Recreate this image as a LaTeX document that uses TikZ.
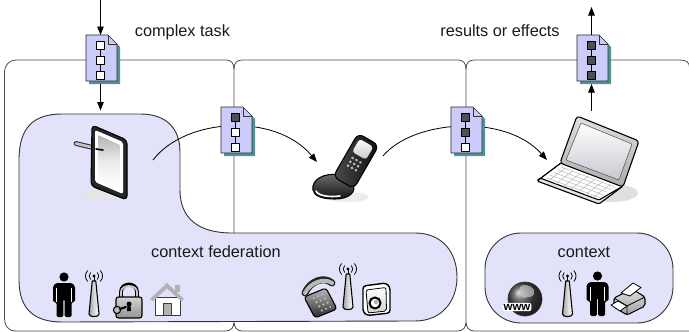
\documentclass[tikz,border=0pt]{standalone}
\usepackage{fontspec}
\setmainfont{Liberation Sans}
\usetikzlibrary{arrows.meta}
\definecolor{zonefill}{RGB}{226,226,250}
\definecolor{docfill}{RGB}{204,204,250}
\definecolor{docshade}{RGB}{78,148,150}
\definecolor{stepdark}{RGB}{80,80,80}

% task document: name, centre, fills of its three steps
\newcommand\taskdoc[5]{%
  \node[docnode] (#1) at #2 {};
  \begin{scope}[shift={(#1.north west)}]
    \fill[docshade] (3,3) -- (25,3) -- (34,12) -- (34,49) -- (3,49) -- cycle;
    \draw[draw=black!85, line width=0.7pt, fill=docfill] (0,0) -- (22,0) -- (31,9) -- (31,46) -- (0,46) -- cycle;
    \draw[black!80, line width=0.5pt] (22,0) -- (22,9) -- (31,9);
    \draw[black, line width=0.7pt] (14.5,10) -- (14.5,40);
    \draw[black, line width=0.7pt, fill=#3] (10.5,6) rectangle (18.5,14);
    \draw[black, line width=0.7pt, fill=#4] (10.5,21) rectangle (18.5,29);
    \draw[black, line width=0.7pt, fill=#5] (10.5,36) rectangle (18.5,44);
  \end{scope}}

% standing person, given its top centre
\newcommand\personicon[1]{%
  \begin{scope}[shift={#1}]
    \fill (0,5) circle (4.6);
    \fill[rounded corners=1.5pt] (-11,30) -- (-11,14) -- (-8,11) -- (8,11) -- (11,14) -- (11,30)
      -- (7.5,30) -- (7.5,45) -- (0.7,45) -- (0.7,27) -- (-0.7,27) -- (-0.7,45) -- (-7.5,45) -- (-7.5,30) -- cycle;
    \draw[white, line width=0.7pt] (-7.3,16) -- (-7.3,30) (7.3,16) -- (7.3,30);
  \end{scope}}

% radio mast, given its top centre
\newcommand\masticon[1]{%
  \begin{scope}[shift={#1}]
    \draw[line width=0.8pt] (-3.3,2.5) .. controls (-5.3,4.5) and (-5.3,7.5) .. (-3.3,9.5)
      (3.3,2.5) .. controls (5.3,4.5) and (5.3,7.5) .. (3.3,9.5)
      (-6.3,0.5) .. controls (-9.3,4) and (-9.3,8) .. (-6.3,11.5)
      (6.3,0.5) .. controls (9.3,4) and (9.3,8) .. (6.3,11.5);
    \fill (0,6) circle (1.7);
    \draw[line width=1pt] (0,6) -- (0,12);
    \draw[line width=1.1pt, left color=gray!75, right color=white, middle color=gray!30]
      (-1.8,11) -- (1.8,11) -- (5,44) .. controls (5,47.5) and (-5,47.5) .. (-5,44) -- cycle;
  \end{scope}}

\begin{document}
\begin{tikzpicture}[x=1pt,y=-1pt, line join=round,
  panelline/.style={draw=black!70, line width=0.8pt},
  fedzone/.style={draw=black!80, line width=0.9pt, fill=zonefill},
  flow/.style={draw=black, line width=0.8pt, -{Triangle[length=8.5pt,width=6.5pt]}},
  lbl/.style={font=\fontsize{16.3}{19}\selectfont, inner sep=0pt, anchor=base, text=black!90},
  docnode/.style={minimum width=31pt, minimum height=46pt, inner sep=0pt, outer sep=0pt},
  iconline/.style={draw=black, line width=1.1pt},
]
\useasboundingbox (0,0) rectangle (689,332);

% ---- the three braces enclosing the devices ----
\draw[panelline] (4.5,317) -- (4.5,73) .. controls (4.5,65) and (9,60) .. (17,60) -- (226,60)
  .. controls (231,60) and (234,63) .. (234,69);
\draw[panelline] (242,60) .. controls (237,60) and (234,63) .. (234,69) -- (234,322);
\draw[panelline] (242,60) -- (458,60) .. controls (463,60) and (466,63) .. (466,69);
\draw[panelline] (474,60) .. controls (469,60) and (466,63) .. (466,69) -- (466,322);
\draw[panelline] (474,60) -- (680,60) .. controls (686,60) and (689.6,62) .. (689.6,68) -- (689.6,332);
\draw[panelline] (4.5,317) .. controls (4.5,326) and (8,331) .. (16,331) -- (226,331)
  .. controls (231,331) and (234,327) .. (234,322) .. controls (234,327) and (237,331) .. (242,331)
  -- (458,331) .. controls (463,331) and (466,327) .. (466,322) .. controls (466,327) and (469,331) .. (474,331)
  -- (690,331);

% ---- context zones ----
\draw[fedzone] (19,160) .. controls (19,128) and (33,114) .. (62,114) -- (140,114)
  .. controls (166,114) and (180,128) .. (180,152) -- (180,190)
  .. controls (180,218) and (198,233) .. (232,233) -- (415,233)
  .. controls (442,233) and (457,252) .. (457,277)
  .. controls (457,302) and (441,321) .. (415,321) -- (62,322)
  .. controls (33,322) and (19,308) .. (19,280) -- cycle;
\draw[fedzone, rounded corners=36pt] (485,233) rectangle (673,323);

\node[lbl] (fedlabel) at (216,257.5) {context federation};
\node[lbl] (ctxlabel) at (584,257) {context};
\node[lbl] (tasklabel) at (182.5,36.5) {complex task};
\node[lbl] (reslabel) at (500,36.5) {results or effects};

% ---- tablet with stylus ----
\node[inner sep=0pt, minimum width=36pt, minimum height=75pt] (tablet) at (109,162) {};
\draw[line width=4.8pt, black!80, line cap=round] (76,143.5) -- (103,150);
\draw[line width=2.6pt, gray!45, line cap=round] (76,143.5) -- (103,150);
\fill[gray!20] (100,195) ellipse (18 and 5);
\draw[iconline, fill=black!85, rounded corners=4pt] (92,125) -- (127,140) -- (127,200) -- (91,186) -- cycle;
\fill[white, rounded corners=2pt] (95,130) -- (123,142) -- (123,194) -- (95,182) -- cycle;
\shade[top color=gray!60, bottom color=white, middle color=gray!15, rounded corners=1pt]
  (98,135) -- (120,145) -- (120,188) -- (98,179) -- cycle;
\draw[line width=1.6pt, line cap=round] (103,150) -- (96,149);

% ---- flip phone ----
\node[inner sep=0pt, minimum width=62pt, minimum height=62pt] (phone) at (342,169) {};
\fill[gray!15] (347,197) ellipse (22 and 5);
\draw[iconline, top color=black!55, bottom color=black!92]
  (313,190) .. controls (311,180) and (324,172) .. (340,175) -- (353,183)
  .. controls (357,192) and (349,199) .. (335,199) .. controls (322,199) and (314,196) .. (313,190) -- cycle;
\draw[white, line width=1.6pt, line cap=round] (316,191) .. controls (318,195.5) and (328,197.5) .. (340,196);
\begin{scope}[shift={(356,161)}, rotate=-30]
  \draw[iconline, left color=black!70, right color=black!95, rounded corners=6pt] (-12,-25) rectangle (12,25);
  \shade[top color=white, bottom color=gray!45, rounded corners=3pt] (-8,-21) rectangle (8,-6);
  \foreach \r in {0,1,2} \foreach \c in {-1,0,1}
    \fill[gray!55] (4.5*\c,-1+4.5*\r) circle (1.5);
\end{scope}

% ---- laptop ----
\node[inner sep=0pt, minimum width=104pt, minimum height=86pt] (laptop) at (588,158) {};
\fill[gray!25] (612,193) ellipse (26 and 9);
\draw[iconline, fill=gray!20, rounded corners=1.5pt] (537,181) -- (561,163) -- (623,186) -- (599,204) -- cycle;
\draw[iconline, fill=white, rounded corners=1pt] (537,181) -- (561,163) -- (623,186) -- (599,200) -- (540,178) -- cycle;
\foreach \u in {0.12,0.24,...,0.9}
  \draw[gray!55, line width=0.5pt] ({561+62*\u-24*0.12},{163+23*\u+18*0.12})
    -- ({561+62*\u-24*0.85},{163+23*\u+18*0.85});
\foreach \v in {0.15,0.3,...,0.86}
  \draw[gray!55, line width=0.5pt] ({561+62*0.06-24*\v},{163+23*0.06+18*\v})
    -- ({561+62*0.92-24*\v},{163+23*0.92+18*\v});
\draw[iconline, top color=gray!25, bottom color=gray!65, rounded corners=3pt]
  (577,116) -- (639,141) -- (623,187) -- (560,163) -- cycle;
\shade[top color=white, bottom color=blue!10!gray!40, rounded corners=1pt]
  (581,123) -- (632,144) -- (619,180) -- (566,160) -- cycle;
\draw[black!70, line width=0.5pt, rounded corners=1pt]
  (581,123) -- (632,144) -- (619,180) -- (566,160) -- cycle;

% ---- federation resources: person, mast, padlock, house ----
\personicon{(64,272)}
\masticon{(94,270)}
% padlock with key
\draw[line width=3.8pt, black] (121,299) -- (121,292) .. controls (121,282) and (137,282) .. (137,292) -- (137,299);
\draw[line width=1.8pt, gray!45] (121,299) -- (121,292) .. controls (121,284) and (137,284) .. (137,292) -- (137,299);
\draw[iconline, top color=gray!35, bottom color=gray!85, rounded corners=2.5pt] (116,297) rectangle (142,318);
\fill (129,304) circle (2.5);
\fill (127.5,305) -- (130.5,305) -- (131,311) -- (127,311) -- cycle;
\draw[iconline, fill=gray!50] (117,310) circle (3.6);
\draw[line width=2.2pt, line cap=round] (120,309) -- (126,307);
% house
\draw[gray!45!black, fill=white, line width=0.9pt] (155,297) rectangle (180,315);
\fill[gray!60] (150,299) -- (167,283) -- (184,299) -- (181,301) -- (167,288.5) -- (153,301) -- cycle;
\fill[gray!60] (175,284.5) rectangle (179.5,292);
\draw[gray!45!black, fill=gray!60, line width=0.6pt] (163.5,303) rectangle (171,315);

% desk telephone, mast, camera
\draw[iconline, top color=gray!55, bottom color=black!85, rounded corners=3pt]
  (304,297) -- (326,288) -- (337,309) -- (315,318) -- cycle;
\foreach \r in {0,1,2,3} \foreach \c in {0,1,2}
  \fill[gray!55] ({314+4.2*\c+2.6*\r},{298-1.8*\c+4.2*\r}) circle (1.2);
\draw[line width=7pt, black!85, line cap=round] (305,293) .. controls (310,281) and (324,276) .. (332,283);
\draw[line width=4pt, gray!55, line cap=round] (305,293) .. controls (310,282.5) and (324,277.5) .. (332,283);
\masticon{(348,263)}
\draw[line width=1.4pt, fill=white, rounded corners=3pt]
  (363,286) -- (386,283) -- (390,287) -- (390,313) -- (367,315.5) -- (363,312) -- cycle;
\draw[line width=0.8pt, top color=white, bottom color=gray!35, rounded corners=2pt]
  (366,290) -- (386,287.5) -- (386.5,311) -- (368,313) -- cycle;
\draw[line width=2pt, fill=white] (375,303) circle (5.5);
\fill[gray!60] (376,302) circle (2.2);

% ---- context resources: web, mast, person, printer ----
\node[inner sep=0pt, minimum size=34pt] (globe) at (525,299) {};
\shade[ball color=gray!55!black] (globe.center) circle (17);
\draw[black!80, line width=0.7pt] (globe.center) circle (17);
\fill[gray!45, opacity=0.7] (521,286) .. controls (528,283) and (536,288) .. (534,294)
  .. controls (531,299) and (527,296) .. (524,298) .. controls (520,296) and (517,290) .. (521,286) -- cycle;
\node[font=\bfseries\fontsize{11.5}{12}\selectfont, fill=white, inner sep=1pt, rounded corners=2pt] (www) at (517,307) {www};
\masticon{(567.5,270)}
\personicon{(597.5,271)}
\draw[iconline, top color=gray!25, bottom color=gray!75, rounded corners=2pt]
  (614,298) -- (632,289) -- (645,297) -- (645,306) -- (627,315) -- (614,307) -- cycle;
\draw[line width=0.8pt, fill=white] (621,293) -- (633,283) -- (641,287.5) -- (630,296) -- cycle;
\draw[line width=0.8pt, fill=white] (611,305) -- (618,301) -- (627,306) -- (620,311) -- cycle;
\draw[line width=0.7pt] (614,298) -- (627,306) -- (645,297) (627,306) -- (627,315);

% ---- task flow ----
\coordinate (taskin) at (100.5,0);
\coordinate (tabtop) at (100.5,110.5);
\coordinate (tabR) at (153,160);
\coordinate (phoL) at (317,162);
\coordinate (phoR) at (383,156);
\coordinate (lapL) at (547,160);
\coordinate (lapout) at (591.5,111);
\coordinate (resout) at (591.5,7);

\draw[flow] (tabR) .. controls (185,118) and (275,112) .. (phoL);
\draw[flow] (phoR) .. controls (413,120) and (505,113) .. (lapL);

\taskdoc{doc1}{(101.5,58)}{white}{white}{white}
\taskdoc{doc2}{(236.5,130)}{stepdark}{white}{white}
\taskdoc{doc3}{(466.5,130)}{stepdark}{stepdark}{white}
\taskdoc{doc4}{(592.5,58)}{stepdark}{stepdark}{stepdark}

\draw[flow] (taskin) -- (taskin |- doc1.north);
\draw[flow] ([yshift=-3pt]doc1.south -| taskin) -- (tabtop);
\draw[flow] (lapout) -- ([yshift=-3pt]doc4.south -| lapout);
\draw[flow] (resout |- doc4.north) -- (resout);
\end{tikzpicture}
\end{document}
